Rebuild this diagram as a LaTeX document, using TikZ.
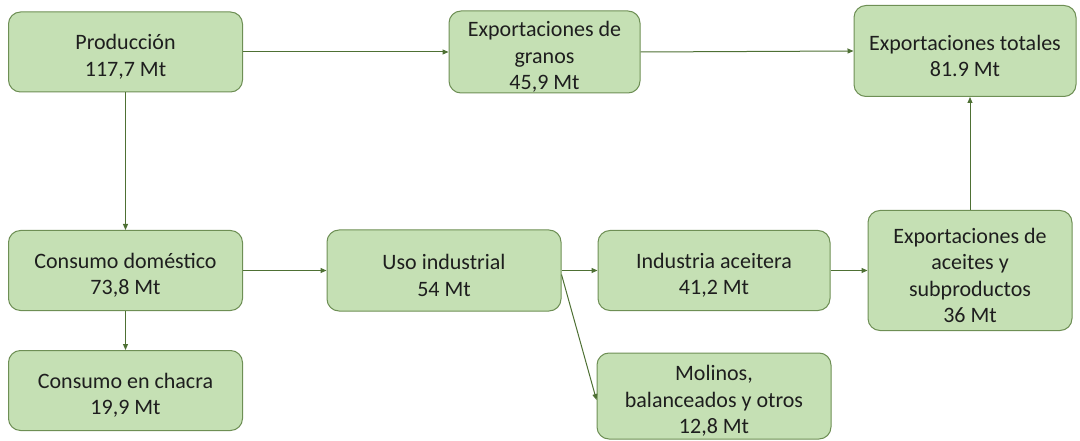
\documentclass[tikz,border=0pt]{standalone}
\usepackage{fontspec}
\setmainfont{Carlito}
\usetikzlibrary{arrows.meta}
\definecolor{boxfill}{HTML}{C5E0B4}
\definecolor{boxline}{HTML}{6E8F55}
\definecolor{arrowc}{HTML}{4E7034}
\definecolor{txt}{HTML}{1E1E1E}
\newcommand{\dnstrut}{\rule{0pt}{25pt}}
\begin{document}
\begin{tikzpicture}[x=1pt,y=-1pt,
  box/.style={draw=boxline, fill=boxfill, rounded corners=12pt, line width=1pt,
    align=center, text=txt, font=\fontsize{22}{26.5}\selectfont, inner sep=0pt},
  conn/.style={draw=arrowc, line width=1pt, -{Triangle[length=6pt,width=5pt]}}]
\useasboundingbox (0,0) rectangle (1080,441);
\node[box, minimum width=234pt, minimum height=80pt] (prod) at (125.5,52) {\dnstrut Producción\\117,7 Mt};
\node[box, minimum width=191pt, minimum height=82pt] (gran) at (544.5,52) {\dnstrut Exportaciones de\\granos\\45,9 Mt};
\node[box, minimum width=222pt, minimum height=91pt] (tot) at (965,51) {\dnstrut Exportaciones totales\\81.9 Mt};
\node[box, minimum width=234pt, minimum height=80pt] (dom) at (125.5,270.5) {\dnstrut Consumo doméstico\\73,8 Mt};
\node[box, minimum width=234pt, minimum height=81pt] (ind) at (444,270.5) {\dnstrut Uso industrial\\54 Mt};
\node[box, minimum width=232pt, minimum height=80pt] (ace) at (714,270.5) {\dnstrut Industria aceitera\\41,2 Mt};
\node[box, minimum width=204pt, minimum height=120pt] (expa) at (970,270.5) {\dnstrut Exportaciones de\\aceites y\\subproductos\\36 Mt};
\node[box, minimum width=234pt, minimum height=80pt] (cha) at (125.5,390.5) {\dnstrut Consumo en chacra\\19,9 Mt};
\node[box, minimum width=234pt, minimum height=86pt] (mol) at (714,396) {\dnstrut Molinos,\\balanceados y otros\\12,8 Mt};
\draw[conn] (prod.east) -- (gran.west);
\draw[conn] (gran.east) -- (tot.west);
\draw[conn] (prod.south) -- (dom.north);
\draw[conn] (dom.south) -- (cha.north);
\draw[conn] (dom.east) -- (ind.west);
\draw[conn] (ind.east) -- (ace.west);
\draw[conn] ([yshift=-4pt]ind.east) -- ([yshift=-4pt]mol.west);
\draw[conn] (ace.east) -- (expa.west);
\draw[conn] (expa.north) -- (expa.north |- tot.south);
\end{tikzpicture}
\end{document}
